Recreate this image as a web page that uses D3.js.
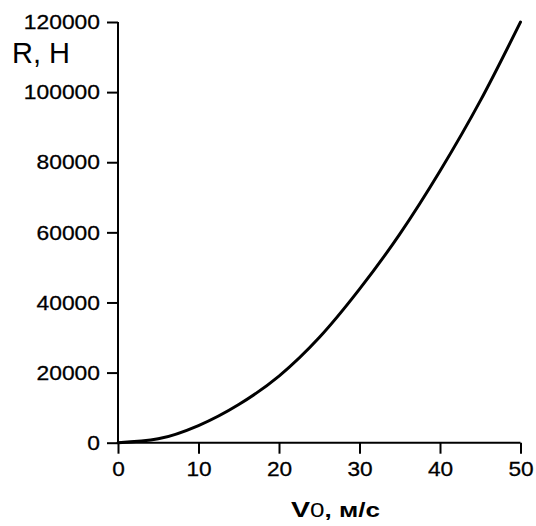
<!DOCTYPE html>
<html>
<head>
<meta charset="utf-8">
<script src="https://cdn.jsdelivr.net/npm/d3@7"></script>
<style>
  body { margin: 0; background: #fff; }
  svg { display: block; }
  text { font-family: "Liberation Sans", Arial, sans-serif; fill: #000; }
</style>
</head>
<body>
<svg id="chart" width="536" height="526"></svg>
<script>
// скорость V0, м/с
const speeds = [0, 5, 10, 15, 20, 25, 30, 35, 40, 45, 50];
// сила R, Н
const forces = [0, 1100, 4900, 10900, 19000, 30000, 43800, 59500, 77500, 97500, 120000];

const xTicks = [0, 10, 20, 30, 40, 50];
const yTicks = [0, 20000, 40000, 60000, 80000, 100000, 120000];

const svg = d3.select("#chart");

const x = d3.scaleLinear().domain([0, 50]).range([118, 520.5]);
const y = d3.scaleLinear().domain([0, 120000]).range([442.7, 22]);

// ось X
const gx = svg.append("g").attr("transform", "translate(0,442.7)");
gx.call(d3.axisBottom(x).tickValues(d3.range(0, 51, 5)).tickSize(6).tickFormat(""));
gx.call(d3.axisBottom(x).tickValues(xTicks).tickSize(11).tickPadding(7)
    .tickFormat(d3.format("d")));
gx.selectAll(".domain").attr("stroke", "#000").attr("stroke-width", 2);
gx.selectAll(".tick line").attr("stroke", "#000").attr("stroke-width", 2);
gx.selectAll(".tick text")
    .style("font-size", "21px")
    .style("stroke", "#000").style("stroke-width", 0.3)
    .attr("textLength", d => String(d).length * 12.6)
    .attr("lengthAdjust", "spacingAndGlyphs");

// ось Y
const gy = svg.append("g").attr("transform", "translate(118,0)");
gy.call(d3.axisLeft(y).tickValues(d3.range(0, 120001, 10000)).tickSize(6).tickFormat(""));
gy.call(d3.axisLeft(y).tickValues(yTicks).tickSize(11).tickPadding(7)
    .tickFormat(d3.format("d")));
gy.selectAll(".domain").attr("stroke", "#000").attr("stroke-width", 2);
gy.selectAll(".tick line").attr("stroke", "#000").attr("stroke-width", 2);
gy.selectAll(".tick text")
    .style("font-size", "21px")
    .style("stroke", "#000").style("stroke-width", 0.3)
    .attr("textLength", d => String(d).length * 12.7)
    .attr("lengthAdjust", "spacingAndGlyphs");
// линии осей только в пределах шкал
gx.selectAll(".domain").attr("d", `M${x(0)},0H${x(50)}`);
gy.selectAll(".domain").attr("d", `M0,${y(0)}V${y(120000)}`);

// кривая
const line = d3.line()
    .x((d, i) => x(speeds[i]))
    .y(d => y(d))
    .curve(d3.curveMonotoneX);

svg.append("path")
    .datum(forces)
    .attr("fill", "none")
    .attr("stroke", "#000")
    .attr("stroke-width", 3)
    .attr("stroke-linecap", "round")
    .attr("d", line);

// подписи осей
svg.append("text")
    .attr("x", 12)
    .attr("y", 62.5)
    .style("font-size", "29px")
    .text("R, H");

const xl = svg.append("text")
    .attr("x", 291)
    .attr("y", 516.5)
    .attr("textLength", 89)
    .attr("lengthAdjust", "spacingAndGlyphs")
    .style("font-size", "20px");
xl.append("tspan").style("font-weight", "bold").style("font-size", "22px").text("V");
xl.append("tspan").text("0");
xl.append("tspan").style("font-weight", "bold").text(", м/с");
</script>
</body>
</html>
